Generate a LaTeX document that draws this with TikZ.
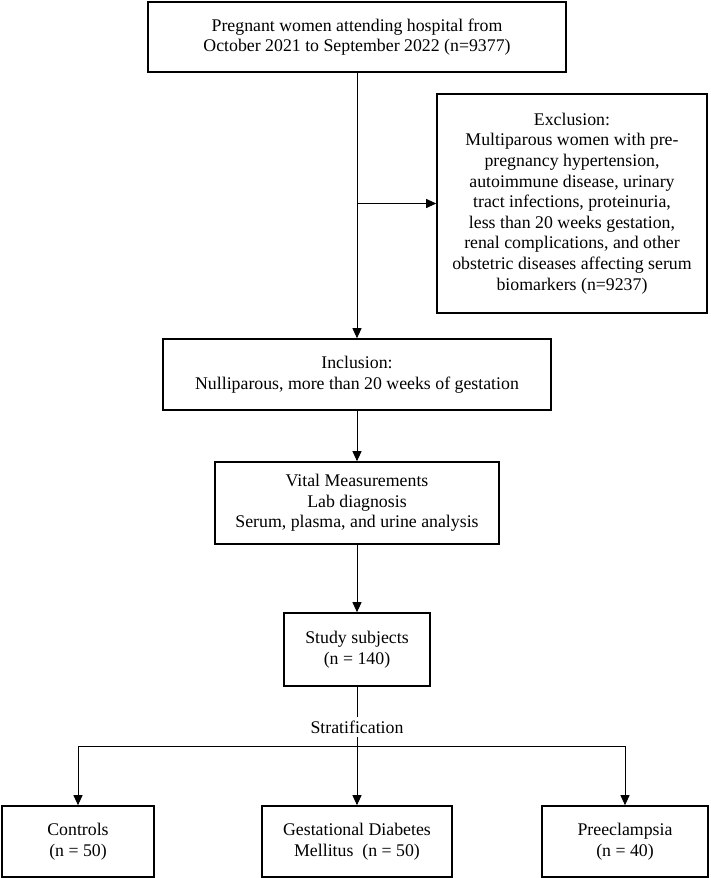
\documentclass[tikz,border=0pt]{standalone}
\usepackage{fontspec}
\setmainfont{Liberation Serif}
\usetikzlibrary{arrows.meta}
\begin{document}
\begin{tikzpicture}[x=1pt,y=-1pt,
  box/.style={draw, line width=1.6pt, align=center, inner sep=0pt,
    font=\fontsize{17.8}{20.6}\selectfont},
  conn/.style={line width=0.9pt},
  arr/.style={conn, -{Triangle[length=10pt,width=9pt]}},
  lbl/.style={fill=white, inner xsep=3pt, inner ysep=3.5pt,
    font=\fontsize{17.8}{20.6}\selectfont}]
\useasboundingbox (0,0) rectangle (710,878);
\node[box, minimum width=418pt, minimum height=70pt] (top) at (357,37)
  {Pregnant women attending hospital from\\October 2021 to September 2022 (n=9377)};
\node[box, minimum width=270pt, minimum height=219pt] (excl) at (572,203.5)
  {Exclusion:\\Multiparous women with pre-\\pregnancy hypertension,\\autoimmune disease, urinary\\tract infections, proteinuria,\\less than 20 weeks gestation,\\renal complications, and other\\obstetric diseases affecting serum\\biomarkers (n=9237)};
\node[box, minimum width=388pt, minimum height=71pt] (inc) at (357,374.5)
  {Inclusion:\\Nulliparous, more than 20 weeks of gestation};
\node[box, minimum width=284pt, minimum height=82pt] (vital) at (357,503)
  {Vital Measurements\\Lab diagnosis\\Serum, plasma, and urine analysis};
\node[box, minimum width=146pt, minimum height=73pt] (study) at (357,649.5)
  {Study subjects\\(n = 140)};
\node[box, minimum width=152pt, minimum height=71pt] (ctrl) at (78,841.5)
  {Controls\\(n = 50)};
\node[box, minimum width=190pt, minimum height=71pt] (gdm) at (357,841.5)
  {Gestational Diabetes\\Mellitus~~(n = 50)};
\node[box, minimum width=166pt, minimum height=71pt] (prec) at (625,841.5)
  {Preeclampsia\\(n = 40)};
% connectors
\draw[arr] (top.south) -- (inc.north);
\coordinate (br) at (top.south |- excl.west);
\draw[arr] (br) -- (excl.west);
\draw[arr] (inc.south) -- (vital.north);
\draw[arr] (vital.south) -- (study.north);
\draw[arr] (study.south) -- (gdm.north);
\coordinate (hy) at (357,746);
\draw[conn] (ctrl.north |- hy) -- (prec.north |- hy);
\draw[arr] (ctrl.north |- hy) -- (ctrl.north);
\draw[arr] (prec.north |- hy) -- (prec.north);
\node[lbl] (strat) at (357,727) {Stratification};
\end{tikzpicture}
\end{document}
